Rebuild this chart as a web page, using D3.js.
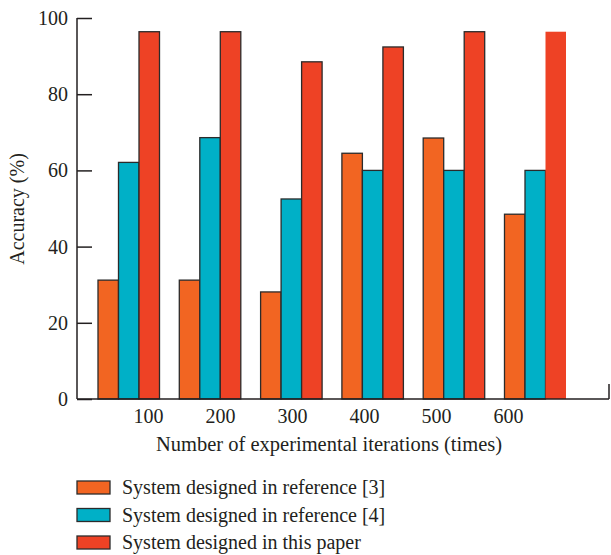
<!DOCTYPE html>
<html>
<head>
<meta charset="utf-8">
<script src="https://cdn.jsdelivr.net/npm/d3@7"></script>
<style>
  body { margin: 0; background: #fff; }
  text { font-family: "Liberation Serif", "DejaVu Serif", serif; fill: #231f20; }
</style>
</head>
<body>
<svg id="chart" width="611" height="555"></svg>
<script>
const categories = ["100", "200", "300", "400", "500", "600"];
const seriesNames = ["System designed in reference [3]", "System designed in reference [4]", "System designed in this paper"];
const ref3 = [31.2, 31.2, 28.1, 64.5, 68.5, 48.5];
const ref4 = [62.1, 68.6, 52.5, 60.0, 60.0, 60.0];
const thisPaper = [96.4, 96.4, 88.5, 92.4, 96.4, 96.4];
const yTicks = [0, 20, 40, 60, 80, 100];
const colors = ["#F26522", "#00B0C7", "#EE4225"];

const series = [ref3, ref4, thisPaper];
const svg = d3.select("#chart");
const mLeft = 77, mRight = 609, mTop = 18, mBottom = 399;

const y = d3.scaleLinear().domain([0, 100]).range([mBottom, mTop]);
// group bar positions
const xGroup = d3.scaleBand().domain(categories).range([98, 566]).paddingInner(0.2435).paddingOuter(0);
const xSub = d3.scaleBand().domain(d3.range(series.length)).range([0, xGroup.bandwidth()]);
// tick label positions
const xLabel = d3.scalePoint().domain(categories).range([148, 508]);

// bars
categories.forEach((c, i) => {
  series.forEach((s, k) => {
    const last = (i === categories.length - 1 && k === 2);
    svg.append("rect")
      .attr("x", xGroup(c) + xSub(k))
      .attr("y", y(s[i]))
      .attr("width", xSub.bandwidth())
      .attr("height", mBottom - y(s[i]))
      .attr("fill", colors[k])
      .attr("stroke", last ? "none" : "#2b2b2b")
      .attr("stroke-width", 1.3);
  });
});

// y axis
const yAxis = d3.axisLeft(y).tickValues(yTicks).tickSize(-15).tickPadding(24);
const gy = svg.append("g").attr("transform", `translate(${mLeft},0)`).call(yAxis);
gy.select(".domain").remove();
gy.selectAll(".tick line").attr("stroke", "#231f20").attr("stroke-width", 1.5);
gy.selectAll(".tick text").attr("font-size", 20).attr("font-family", "Liberation Serif, serif").attr("fill", "#231f20").attr("x", -9);
svg.append("line").attr("x1", mLeft).attr("x2", mLeft).attr("y1", mTop).attr("y2", mBottom)
  .attr("stroke", "#231f20").attr("stroke-width", 1.5);

// x axis
svg.append("line").attr("x1", mLeft).attr("x2", mRight).attr("y1", mBottom).attr("y2", mBottom)
  .attr("stroke", "#231f20").attr("stroke-width", 1.5);
svg.append("line").attr("x1", mRight).attr("x2", mRight).attr("y1", mBottom).attr("y2", mBottom - 15)
  .attr("stroke", "#231f20").attr("stroke-width", 1.5);
const xAxis = d3.axisBottom(xLabel).tickSize(0).tickPadding(10);
const gx = svg.append("g").attr("transform", `translate(0,${mBottom})`).call(xAxis);
gx.select(".domain").remove();
gx.selectAll(".tick text").attr("font-size", 20).attr("font-family", "Liberation Serif, serif").attr("fill", "#231f20");

// axis titles
svg.append("text").attr("x", 329).attr("y", 451).attr("text-anchor", "middle")
  .attr("font-size", 20.5).text("Number of experimental iterations (times)");
svg.append("text").attr("transform", "translate(24,209) rotate(-90)").attr("text-anchor", "middle")
  .attr("font-size", 20).text("Accuracy (%)");

// legend
const lg = svg.append("g");
seriesNames.forEach((n, k) => {
  const yy = 481 + k * 27.5;
  lg.append("rect").attr("x", 77).attr("y", yy).attr("width", 33).attr("height", 13)
    .attr("fill", colors[k]).attr("stroke", "#2b2b2b").attr("stroke-width", 1.3);
  lg.append("text").attr("x", 122).attr("y", yy + 13).attr("font-size", 20).text(n);
});
</script>
</body>
</html>
